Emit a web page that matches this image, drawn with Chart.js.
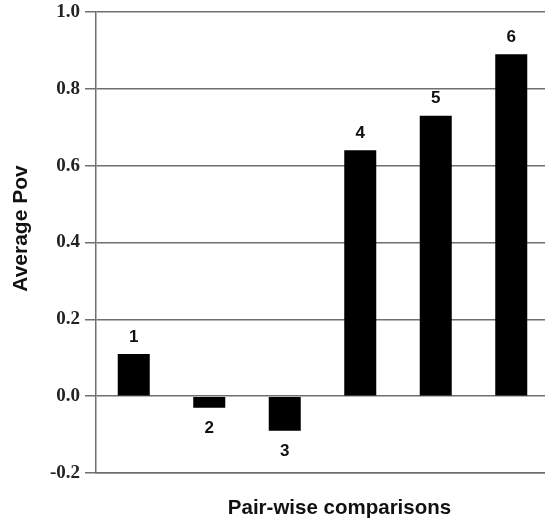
<!DOCTYPE html>
<html>
<head>
<meta charset="utf-8">
<script src="https://cdn.jsdelivr.net/npm/chart.js@4/dist/chart.umd.min.js"></script>
<style>
  html, body { margin: 0; padding: 0; background: #fff; overflow: hidden; }
  #wrap { width: 550px; height: 519px; }
</style>
</head>
<body>
<div id="wrap"><canvas id="c" width="550" height="519"></canvas></div>
<script>
// Pair-wise comparison numbers and their average Pov values
const comparisons = ['1', '2', '3', '4', '5', '6'];
const averagePov = [0.11, -0.03, -0.09, 0.64, 0.73, 0.89];
const yTicks = [-0.2, 0.0, 0.2, 0.4, 0.6, 0.8, 1.0];

const yTitle = 'Average Pov';
const xTitle = 'Pair-wise comparisons';

const gridColor = '#6f6f6f';
const sansBold = px => `bold ${px}px "Liberation Sans", Arial, sans-serif`;

// Writes the comparison number above (or below) each bar, plus the axis titles
const annotate = {
  id: 'annotate',
  afterDraw(chart) {
    const ctx = chart.ctx;
    const area = chart.chartArea;
    const meta = chart.getDatasetMeta(0);
    ctx.save();
    ctx.fillStyle = '#111';
    ctx.font = sansBold(17);
    ctx.textAlign = 'center';
    ctx.textBaseline = 'middle';
    meta.data.forEach((bar, i) => {
      const v = averagePov[i];
      const y = v >= 0 ? bar.y - 17 : bar.y + 21;
      ctx.fillText(comparisons[i], bar.x, y);
    });

    ctx.font = sansBold(20.5);
    ctx.textBaseline = 'alphabetic';
    ctx.fillText(xTitle, (area.left + area.right) / 2 + 17, 514);

    ctx.textBaseline = 'middle';
    ctx.translate(21, (area.top + area.bottom) / 2 - 14);
    ctx.rotate(-Math.PI / 2);
    ctx.font = sansBold(21);
    ctx.fillText(yTitle, 0, 0);
    ctx.restore();
  }
};

new Chart(document.getElementById('c'), {
  type: 'bar',
  data: {
    labels: comparisons,
    datasets: [{
      data: averagePov,
      backgroundColor: '#000',
      borderWidth: 0,
      barPercentage: 0.424,
      categoryPercentage: 1.0
    }]
  },
  options: {
    responsive: false,
    animation: false,
    devicePixelRatio: 1,
    layout: { padding: { top: 12, right: 1, left: 0, bottom: 0 } },
    plugins: {
      legend: { display: false },
      tooltip: { enabled: false }
    },
    scales: {
      x: {
        type: 'category',
        grid: { display: false, drawTicks: false },
        border: { display: true, color: gridColor, width: 1.5 },
        ticks: { display: false },
        afterFit(scale) { scale.height = 46; }
      },
      y: {
        min: -0.2,
        max: 1.0,
        afterBuildTicks(scale) { scale.ticks = yTicks.map(v => ({ value: v })); },
        afterFit(scale) {
          scale.width = 96;
          scale.paddingTop = 0;
          scale.paddingBottom = 0;
        },
        grid: {
          color: gridColor,
          lineWidth: 1.5,
          drawTicks: true,
          tickLength: 11,
          tickColor: gridColor
        },
        border: { display: true, color: gridColor, width: 1.5 },
        ticks: {
          padding: 5,
          color: '#222',
          font: { family: '"Liberation Serif", "Times New Roman", serif', size: 19, weight: 'bold' },
          callback: v => Number(v).toFixed(1)
        }
      }
    }
  },
  plugins: [annotate]
});
</script>
</body>
</html>
